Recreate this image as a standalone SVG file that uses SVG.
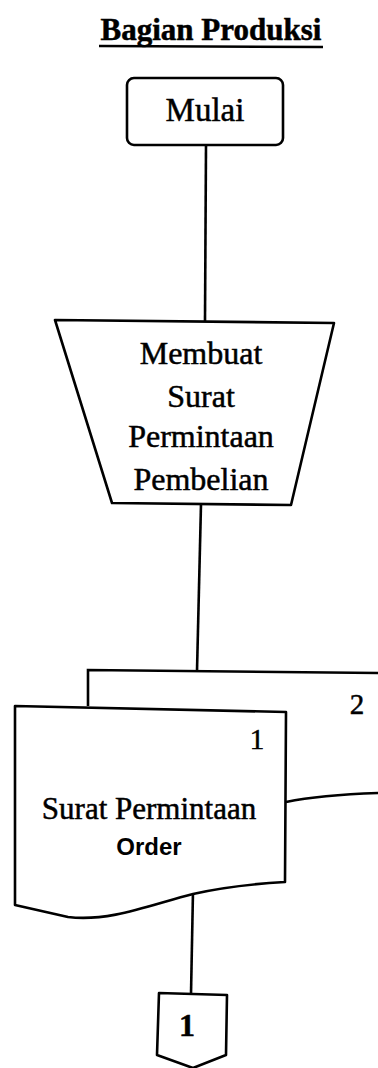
<svg xmlns="http://www.w3.org/2000/svg" width="378" height="1068" viewBox="0 0 378 1068">
  <style>
    .shape { fill: #fff; stroke: #000; stroke-width: 2.6; stroke-linejoin: round; }
    .line { fill: none; stroke: #000; stroke-width: 2.6; }
    .serif { font-family: "Liberation Serif", "Times New Roman", serif; fill: #000; stroke: #000; stroke-width: 0.5; text-anchor: middle; }
    .sans { font-family: "Liberation Sans", Arial, sans-serif; fill: #000; text-anchor: middle; }
  </style>
  <rect width="378" height="1068" fill="#fff"/>

  <!-- heading -->
  <g id="title">
    <text class="serif" x="211" y="40" font-size="31" font-weight="bold">Bagian Produksi</text>
    <line x1="99" y1="46" x2="323" y2="47" stroke="#000" stroke-width="2.6"/>
  </g>

  <!-- connectors -->
  <g id="connectors">
    <line class="line" x1="206" y1="145" x2="205" y2="321"/>
    <line class="line" x1="201" y1="504" x2="197" y2="671"/>
    <line class="line" x1="193" y1="891" x2="191" y2="994"/>
  </g>

  <g id="start">
    <rect class="shape" x="127" y="78" width="156" height="67" rx="7"/>
    <text class="serif" x="205" y="121" font-size="33">Mulai</text>
  </g>

  <g id="manual-op">
    <polygon class="shape" points="55,320 334,323 291,505 112,503"/>
    <text class="serif" x="201" y="364" font-size="32">Membuat</text>
    <text class="serif" x="201" y="407" font-size="32">Surat</text>
    <text class="serif" x="201" y="447" font-size="32">Permintaan</text>
    <text class="serif" x="201" y="490" font-size="32">Pembelian</text>
  </g>

  <!-- copy 2, lying behind copy 1 -->
  <g id="doc-copy-2">
    <path class="line" d="M88,706 L88,670 L378,673"/>
    <path class="line" d="M286,802 Q320,795 378,793"/>
    <text class="serif" x="357" y="714" font-size="29">2</text>
  </g>

  <g id="doc-copy-1">
    <path class="shape" d="M15,706 L286,712 L285,882 C250,884 215,889 193,894 C150,905 110,922 68,917 L15,905 Z"/>
    <text class="serif" x="257" y="749" font-size="29">1</text>
    <text class="serif" x="149" y="819" font-size="31">Surat Permintaan</text>
    <text class="sans" x="149" y="855" font-size="24" font-weight="bold">Order</text>
  </g>

  <g id="offpage-1">
    <polygon class="shape" points="159,993 227,995 226,1055 193,1068 157,1055"/>
    <text class="serif" x="187" y="1036" font-size="32" font-weight="bold">1</text>
  </g>
</svg>
